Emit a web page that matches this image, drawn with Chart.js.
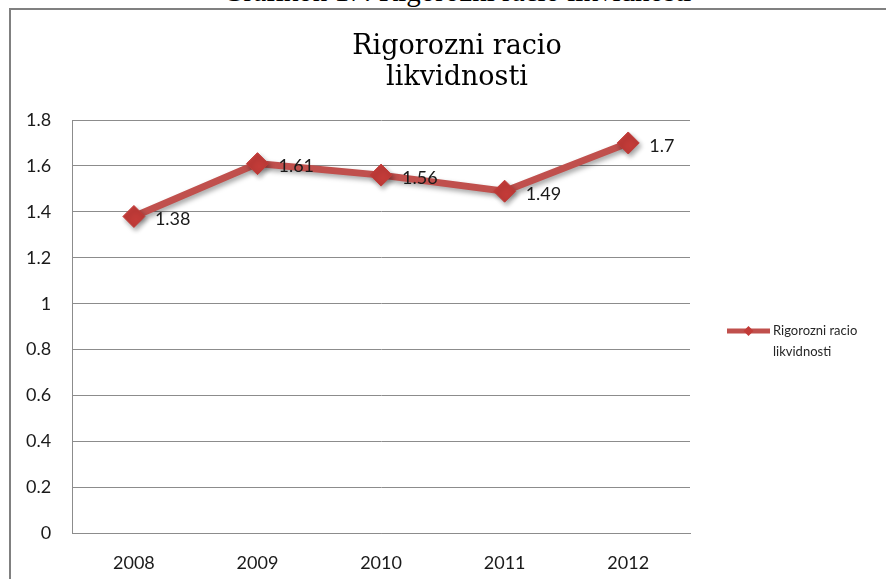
<!DOCTYPE html>
<html>
<head>
<meta charset="utf-8">
<script src="https://cdn.jsdelivr.net/npm/chart.js@4.4.1/dist/chart.umd.min.js"></script>
<style>
  html, body { margin: 0; padding: 0; background: #fff; overflow: hidden; }
  #page { position: relative; width: 886px; height: 579px; overflow: hidden; }
  #caption {
    position: absolute; left: 14px; width: 886px; top: -23px; height: 29px; line-height: 29px;
    text-align: center; font-family: "Liberation Serif", "DejaVu Serif", serif;
    font-size: 29px; color: #000; white-space: nowrap;
  }
  #frame {
    position: absolute; left: 9px; top: 8px; right: -10px; bottom: -10px;
    border-left: 2px solid #808080; border-top: 2px solid #808080;
  }
  #wrap { position: absolute; left: 0; top: 0; width: 886px; height: 582px; }
</style>
</head>
<body>
<div id="page">
  <div id="caption">Grafikon 17: Rigorozni racio likvidnosti</div>
  <div id="frame"></div>
  <div id="wrap"><canvas id="chart" width="886" height="582"></canvas></div>
</div>
<script>
// Years on the category axis
const years = ['2008', '2009', '2010', '2011', '2012'];
// Quick (acid-test) liquidity ratio per year
const quickRatio = [1.38, 1.61, 1.56, 1.49, 1.7];
// Chart title lines and series name
const titleLines = ['Rigorozni racio', 'likvidnosti'];
const seriesName = 'Rigorozni racio likvidnosti';

const RED_LINE = '#c0504d';
const RED_MARK = '#c23b38';
const GRID = '#8c8c8c';
const LABEL_FONT = 'Lato, "Open Sans", sans-serif';

// Two-line title centred over the whole frame
const frameTitle = {
  id: 'frameTitle',
  afterDraw(chart) {
    const ctx = chart.ctx;
    ctx.save();
    ctx.font = '27px "DejaVu Serif", "Liberation Serif", serif';
    ctx.fillStyle = '#000';
    ctx.textAlign = 'center';
    ctx.textBaseline = 'alphabetic';
    titleLines.forEach((t, i) => ctx.fillText(t, 457, 54 + i * 31));
    ctx.restore();
  }
};

// Shadow under the line and markers
const shadowPlugin = {
  id: 'lineShadow',
  beforeDatasetsDraw(chart) {
    const ctx = chart.ctx;
    ctx.save();
    ctx.shadowColor = 'rgba(0,0,0,0.35)';
    ctx.shadowBlur = 5;
    ctx.shadowOffsetX = 2;
    ctx.shadowOffsetY = 3;
  },
  afterDatasetsDraw(chart) {
    chart.ctx.restore();
  }
};

// Value labels to the right of each point
const valueLabels = {
  id: 'valueLabels',
  afterDatasetsDraw(chart) {
    const ctx = chart.ctx;
    const meta = chart.getDatasetMeta(0);
    const values = chart.data.datasets[0].data;
    ctx.save();
    ctx.font = '18px ' + LABEL_FONT;
    ctx.fillStyle = '#1a1a1a';
    ctx.textAlign = 'left';
    ctx.textBaseline = 'middle';
    meta.data.forEach((pt, i) => {
      ctx.fillText(String(values[i]), pt.x + 21, pt.y + 3);
    });
    ctx.restore();
  }
};

// Legend drawn at the right, text wrapped onto two lines
const sideLegend = {
  id: 'sideLegend',
  afterDraw(chart) {
    const ctx = chart.ctx;
    const ds = chart.data.datasets[0];
    const x0 = 727, x1 = 770, y = 331;
    ctx.save();
    ctx.strokeStyle = ds.borderColor;
    ctx.lineWidth = 5;
    ctx.beginPath();
    ctx.moveTo(x0, y);
    ctx.lineTo(x1, y);
    ctx.stroke();
    ctx.fillStyle = ds.pointBackgroundColor;
    const r = 5;
    const cx = (x0 + x1) / 2;
    ctx.beginPath();
    ctx.moveTo(cx, y - r); ctx.lineTo(cx + r, y); ctx.lineTo(cx, y + r); ctx.lineTo(cx - r, y);
    ctx.closePath();
    ctx.fill();

    ctx.font = '13px ' + LABEL_FONT;
    ctx.fillStyle = '#262626';
    ctx.textAlign = 'left';
    ctx.textBaseline = 'middle';
    const words = ds.label.split(' ');
    const lines = [];
    let cur = '';
    words.forEach(w => {
      const test = cur ? cur + ' ' + w : w;
      if (ctx.measureText(test).width > 100 && cur) { lines.push(cur); cur = w; }
      else cur = test;
    });
    if (cur) lines.push(cur);
    lines.forEach((ln, i) => ctx.fillText(ln, x1 + 3, y + i * 21));
    ctx.restore();
  }
};

new Chart(document.getElementById('chart'), {
  type: 'line',
  data: {
    labels: years,
    datasets: [{
      label: seriesName,
      data: quickRatio,
      borderColor: RED_LINE,
      borderWidth: 7,
      pointStyle: 'rectRot',
      pointRadius: 11,
      pointHoverRadius: 11,
      pointBackgroundColor: RED_MARK,
      pointBorderColor: RED_MARK,
      pointBorderWidth: 1,
      tension: 0,
      fill: false
    }]
  },
  options: {
    responsive: false,
    animation: false,
    events: [],
    layout: { padding: { left: 5, right: 196, top: 120, bottom: -11 } },
    plugins: {
      legend: { display: false },
      tooltip: { enabled: false },
      title: { display: false }
    },
    scales: {
      x: {
        offset: true,
        grid: { display: false, drawTicks: false },
        border: { display: true, color: GRID, width: 1 },
        ticks: { color: '#1a1a1a', font: { family: LABEL_FONT, size: 18 }, padding: 19 }
      },
      y: {
        min: 0,
        max: 1.8,
        grid: { color: GRID, lineWidth: 1, drawTicks: false },
        border: { display: true, color: GRID, width: 1 },
        ticks: {
          stepSize: 0.2,
          color: '#1a1a1a',
          font: { family: LABEL_FONT, size: 18 },
          padding: 21,
          callback: v => String(Number(v.toFixed(1)))
        }
      }
    }
  },
  plugins: [frameTitle, shadowPlugin, valueLabels, sideLegend]
});
</script>
</body>
</html>
